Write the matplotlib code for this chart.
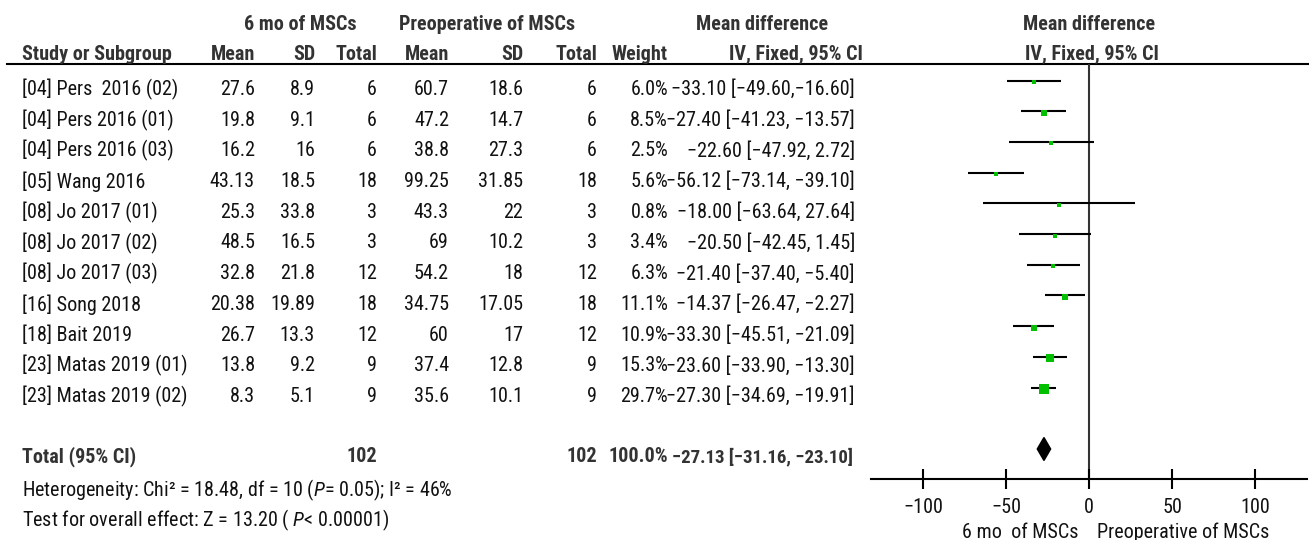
import numpy as np
import matplotlib
matplotlib.use("Agg")
import matplotlib.pyplot as plt
from matplotlib.lines import Line2D

# ---- data ----
studies = ["[04] Pers  2016 (02)", "[04] Pers 2016 (01)", "[04] Pers 2016 (03)",
           "[05] Wang 2016", "[08] Jo 2017 (01)", "[08] Jo 2017 (02)", "[08] Jo 2017 (03)",
           "[16] Song 2018", "[18] Bait 2019", "[23] Matas 2019 (01)", "[23] Matas 2019 (02)"]
mean_6mo = ["27.6", "19.8", "16.2", "43.13", "25.3", "48.5", "32.8", "20.38", "26.7", "13.8", "8.3"]
sd_6mo = ["8.9", "9.1", "16", "18.5", "33.8", "16.5", "21.8", "19.89", "13.3", "9.2", "5.1"]
n_6mo = [6, 6, 6, 18, 3, 3, 12, 18, 12, 9, 9]
mean_pre = ["60.7", "47.2", "38.8", "99.25", "43.3", "69", "54.2", "34.75", "60", "37.4", "35.6"]
sd_pre = ["18.6", "14.7", "27.3", "31.85", "22", "10.2", "18", "17.05", "17", "12.8", "10.1"]
n_pre = [6, 6, 6, 18, 3, 3, 12, 18, 12, 9, 9]
weights = [6.0, 8.5, 2.5, 5.6, 0.8, 3.4, 6.3, 11.1, 10.9, 15.3, 29.7]
md = [-33.10, -27.40, -22.60, -56.12, -18.00, -20.50, -21.40, -14.37, -33.30, -23.60, -27.30]
ci_lo = [-49.60, -41.23, -47.92, -73.14, -63.64, -42.45, -37.40, -26.47, -45.51, -33.90, -34.69]
ci_hi = [-16.60, -13.57, 2.72, -39.10, 27.64, 1.45, -5.40, -2.27, -21.09, -13.30, -19.91]
ci_text = ["\u221233.10 [\u221249.60,\u221216.60]", "\u221227.40 [\u221241.23, \u221213.57]",
           "\u221222.60 [\u221247.92, 2.72]", "\u221256.12 [\u221273.14, \u221239.10]",
           "\u221218.00 [\u221263.64, 27.64]", "\u221220.50 [\u221242.45, 1.45]",
           "\u221221.40 [\u221237.40, \u22125.40]", "\u221214.37 [\u221226.47, \u22122.27]",
           "\u221233.30 [\u221245.51, \u221221.09]", "\u221223.60 [\u221233.90, \u221213.30]",
           "\u221227.30 [\u221234.69, \u221219.91]"]
total_n_6mo = 102
total_n_pre = 102
total_weight = 100.0
total_md = -27.13
total_lo = -31.16
total_hi = -23.10
xticks = [-100, -50, 0, 50, 100]

# ---- style ----
FONT = ["Roboto Condensed", "DejaVu Sans"]
plt.rcParams["font.family"] = FONT
plt.rcParams["mathtext.fontset"] = "custom"
plt.rcParams["mathtext.it"] = "Roboto Condensed:italic"
plt.rcParams["mathtext.rm"] = "Roboto Condensed"
FS = 14.5
TXT = "#111111"
HDR = "#333333"
GREEN = "#00c000"
LW = 1.5

W, H = 1309, 540
fig = plt.figure(figsize=(W / 100, H / 100), dpi=100)

# table layer in pixel units
tab = fig.add_axes([0, 0, 1, 1])
tab.set_xlim(0, W)
tab.set_ylim(H, 0)
tab.axis("off")

row0, step = 89.5, 30.7
rows_y = row0 + step * np.arange(len(studies))
total_y = 457

# group headers
hdr_kw = dict(fontsize=FS, fontweight="bold", color=HDR, va="center")
tab.text(300, 25, "6 mo of MSCs", ha="center", **hdr_kw)
tab.text(487, 25, "Preoperative of MSCs", ha="center", **hdr_kw)
tab.text(762, 25, "Mean difference", ha="center", **hdr_kw)
tab.text(1089, 25, "Mean difference", ha="center", **hdr_kw)

# column headers
col_right = {"m1": 255, "s1": 315, "n1": 377, "m2": 449, "s2": 523, "n2": 597, "w": 668, "ci": 855}
tab.text(22, 54, "Study or Subgroup", ha="left", **hdr_kw)
for key, lab in [("m1", "Mean"), ("s1", "SD"), ("n1", "Total"), ("m2", "Mean"),
                 ("s2", "SD"), ("n2", "Total"), ("w", "Weight")]:
    tab.text(col_right[key], 54, lab, ha="right", **hdr_kw)
tab.text(863, 54, "IV, Fixed, 95% CI", ha="right", **hdr_kw)
tab.text(1092, 54, "IV, Fixed, 95% CI", ha="center", **hdr_kw)
tab.add_line(Line2D([7, W], [64, 64], color="black", lw=LW))

# study rows
kw = dict(fontsize=FS, color=TXT, va="center")
for i, y in enumerate(rows_y):
    tab.text(22, y, studies[i], ha="left", **kw)
    tab.text(col_right["m1"], y, mean_6mo[i], ha="right", **kw)
    tab.text(col_right["s1"], y, sd_6mo[i], ha="right", **kw)
    tab.text(col_right["n1"], y, str(n_6mo[i]), ha="right", **kw)
    tab.text(col_right["m2"], y, mean_pre[i], ha="right", **kw)
    tab.text(col_right["s2"], y, sd_pre[i], ha="right", **kw)
    tab.text(col_right["n2"], y, str(n_pre[i]), ha="right", **kw)
    tab.text(col_right["w"], y, f"{weights[i]:.1f}%", ha="right", **kw)
    tab.text(col_right["ci"], y, ci_text[i], ha="right", **kw)

# total row
bkw = dict(fontsize=FS, fontweight="bold", color=HDR, va="center")
tab.text(22, total_y, "Total (95% CI)", ha="left", **bkw)
tab.text(col_right["n1"], total_y, str(total_n_6mo), ha="right", **bkw)
tab.text(col_right["n2"], total_y, str(total_n_pre), ha="right", **bkw)
tab.text(col_right["w"], total_y, f"{total_weight:.1f}%", ha="right", **bkw)
tab.text(853, total_y,
         f"{total_md:.2f} [{total_lo:.2f}, {total_hi:.2f}]".replace("-", "\u2212"),
         ha="right", fontsize=13.6, fontweight="bold", color=HDR, va="center")

tab.text(22, 490, r"Heterogeneity: Chi² = 18.48, df = 10 ($\mathit{P}$= 0.05); I² = 46%",
         ha="left", **kw)
tab.text(22, 520, r"Test for overall effect: Z = 13.20 ( $\mathit{P}$< 0.00001)",
         ha="left", **kw)

# ---- forest plot ----
x0_px, x1_px = 871, 1307
y_top, y_axis = 64, 479
xmin, xmax = -131.3, 131.3
ax = fig.add_axes([x0_px / W, 1 - y_axis / H, (x1_px - x0_px) / W, (y_axis - y_top) / H])
ax.set_xlim(xmin, xmax)
ax.set_ylim(y_axis, y_top)
ax.patch.set_alpha(0)
for s in ["top", "right", "left"]:
    ax.spines[s].set_visible(False)
ax.spines["bottom"].set_linewidth(LW)
ax.set_yticks([])
ax.set_xticks(xticks)
ax.set_xticklabels([str(t).replace("-", "\u2212") for t in xticks], fontsize=FS, color=TXT)
ax.tick_params(axis="x", direction="inout", length=14, width=LW, pad=6.5)

ax.axvline(0, color="#333333", lw=LW, zorder=1)

mark_y = rows_y - 9
for i, y in enumerate(mark_y):
    ax.plot([ci_lo[i], ci_hi[i]], [y, y], color="black", lw=LW, solid_capstyle="butt", zorder=2)
    side_pt = max(4.0, 1.85 * np.sqrt(weights[i])) * 0.72
    ax.plot(md[i], y + 1.5, marker="s", ms=side_pt, color=GREEN, mec=GREEN, mew=0, zorder=3)

dy = total_y - 8
half_h = 11.5
ax.fill([total_lo, total_md, total_hi, total_md],
        [dy, dy - half_h, dy, dy + half_h], color="black", zorder=3, clip_on=False)

tab.text(1078, 532, "6 mo  of MSCs", ha="right", **kw)
tab.text(1097, 532, "Preoperative of MSCs", ha="left", **kw)

fig.savefig("out.png", dpi=100)
